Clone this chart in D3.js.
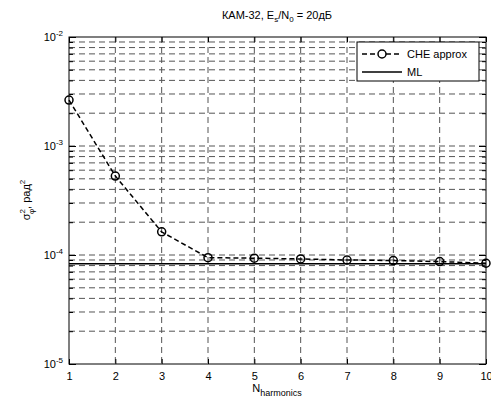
<!DOCTYPE html>
<html><head><meta charset="utf-8">
<script src="https://cdn.jsdelivr.net/npm/d3@7"></script>
<style>body{margin:0;background:#fff}svg{display:block}text{font-family:Arial,"Liberation Sans",sans-serif;fill:#000}</style>
</head><body>
<svg id="c" width="491" height="403"></svg>
<script>
// Phase-estimate variance vs number of harmonics
const harmonics = [1, 2, 3, 4, 5, 6, 7, 8, 9, 10];
const cheApprox = [2.64e-3, 5.3e-4, 1.63e-4, 9.45e-5, 9.35e-5, 9.2e-5, 9.0e-5, 8.9e-5, 8.7e-5, 8.4e-5];
const mlValue = [8.3e-5, 8.3e-5, 8.3e-5, 8.3e-5, 8.3e-5, 8.3e-5, 8.3e-5, 8.3e-5, 8.3e-5, 8.3e-5];
const yDecades = [1e-5, 1e-4, 1e-3, 1e-2];
const yExponents = ["-5", "-4", "-3", "-2"];
const legendLabels = ["CHE approx", "ML"];

const svg = d3.select("#c");
const m = {l: 69, r: 486, t: 37, b: 364};
const x = d3.scaleLinear().domain([1, 10]).range([m.l, m.r]);
const y = d3.scaleLog().domain([1e-5, 1e-2]).range([m.b, m.t]);

// all log ticks (2..9 per decade plus decades)
const minor = [];
for (let e = -5; e < -2; e++) for (let k = 1; k <= 9; k++) minor.push(k * Math.pow(10, e));
minor.push(1e-2);

const g = svg.append("g");
// grid
g.selectAll("line.gy").data(minor.filter(v => v > 1e-5 && v < 1e-2)).join("line")
  .attr("x1", m.l).attr("x2", m.r).attr("y1", d => y(d)).attr("y2", d => y(d))
  .attr("stroke", "#555").attr("stroke-width", 1).attr("stroke-dasharray", "6,4");
g.selectAll("line.gx").data(harmonics.slice(1, -1)).join("line")
  .attr("x1", d => x(d)).attr("x2", d => x(d)).attr("y1", m.t).attr("y2", m.b)
  .attr("stroke", "#555").attr("stroke-width", 1).attr("stroke-dasharray", "6,4");

// axes with inward ticks on all sides
const axL = d3.axisLeft(y).tickValues(minor).tickSize(-4).tickFormat("");
const axR = d3.axisRight(y).tickValues(minor).tickSize(-4).tickFormat("");
const axB = d3.axisBottom(x).tickValues(harmonics).tickSize(-5).tickFormat(d3.format("d")).tickPadding(8);
const axT = d3.axisTop(x).tickValues(harmonics).tickSize(-5).tickFormat("");
function style(sel) { sel.select(".domain").remove(); sel.selectAll("line").attr("stroke", "#000"); sel.selectAll("text").attr("font-size", 11).attr("font-family", "Arial, Liberation Sans, sans-serif"); }
svg.append("g").attr("transform", `translate(${m.l},0)`).call(axL).call(style)
  .selectAll(".tick line").attr("x2", d => yDecades.includes(d) ? 7 : 4);
svg.append("g").attr("transform", `translate(${m.r},0)`).call(axR).call(style)
  .selectAll(".tick line").attr("x2", d => yDecades.includes(d) ? -7 : -4);
svg.append("g").attr("transform", `translate(0,${m.b})`).call(axB).call(style);
svg.append("g").attr("transform", `translate(0,${m.t})`).call(axT).call(style);
svg.append("rect").attr("x", m.l).attr("y", m.t).attr("width", m.r - m.l).attr("height", m.b - m.t)
  .attr("fill", "none").attr("stroke", "#000").attr("stroke-width", 1);

// decade labels
yDecades.forEach((v, i) => {
  const t = svg.append("text").attr("x", m.l - 6).attr("y", y(v) + 4).attr("text-anchor", "end").attr("font-size", 11);
  t.append("tspan").text("10");
  t.append("tspan").attr("dy", -5).attr("font-size", 8).text(yExponents[i]);
});

// ML line
const line = d3.line().x((d, i) => x(harmonics[i])).y(d => y(d));
svg.append("path").datum(mlValue).attr("d", line).attr("fill", "none").attr("stroke", "#000").attr("stroke-width", 1.5);
// CHE approx
svg.append("path").datum(cheApprox).attr("d", line).attr("fill", "none").attr("stroke", "#000")
  .attr("stroke-width", 1.5).attr("stroke-dasharray", "5,3");
svg.selectAll("circle.p").data(cheApprox).join("circle")
  .attr("cx", (d, i) => x(harmonics[i])).attr("cy", d => y(d)).attr("r", 4)
  .attr("fill", "none").attr("stroke", "#000").attr("stroke-width", 1.5);

// title
const tt = svg.append("text").attr("x", 277).attr("y", 19).attr("text-anchor", "middle").attr("font-size", 11);
tt.append("tspan").text("КАМ-32, E");
tt.append("tspan").attr("dy", 3).attr("font-size", 8).text("s");
tt.append("tspan").attr("dy", -3).text("/N");
tt.append("tspan").attr("dy", 3).attr("font-size", 8).text("0");
tt.append("tspan").attr("dy", -3).text(" = 20дБ");

// x label
const xl = svg.append("text").attr("x", 277).attr("y", 392).attr("text-anchor", "middle").attr("font-size", 11);
xl.append("tspan").text("N");
xl.append("tspan").attr("dy", 4).attr("font-size", 9).text("harmonics");

// y label
const yl = svg.append("text").attr("transform", "translate(30,200) rotate(-90)").attr("text-anchor", "middle").attr("font-size", 11);
yl.append("tspan").text("σ");
yl.append("tspan").attr("dy", -5).attr("font-size", 8).text("2");
yl.append("tspan").attr("dx", -5).attr("dy", 9).attr("font-size", 8).text("φ");
yl.append("tspan").attr("dy", -4).text(", рад");
yl.append("tspan").attr("dy", -5).attr("font-size", 8).text("2");

// legend
const lg = svg.append("g");
lg.append("rect").attr("x", 357).attr("y", 42).attr("width", 122).attr("height", 39)
  .attr("fill", "#fff").attr("stroke", "#000").attr("stroke-width", 1);
lg.append("line").attr("x1", 362).attr("x2", 402).attr("y1", 54).attr("y2", 54)
  .attr("stroke", "#000").attr("stroke-width", 1.5).attr("stroke-dasharray", "5,3");
lg.append("circle").attr("cx", 382).attr("cy", 54).attr("r", 4).attr("fill", "#fff").attr("stroke", "#000").attr("stroke-width", 1.5);
lg.append("line").attr("x1", 362).attr("x2", 402).attr("y1", 72).attr("y2", 72).attr("stroke", "#000").attr("stroke-width", 1.5);
lg.selectAll("text.l").data(legendLabels).join("text").attr("x", 407).attr("y", (d, i) => 58 + i * 18)
  .attr("font-size", 11).text(d => d);
</script>
</body></html>
